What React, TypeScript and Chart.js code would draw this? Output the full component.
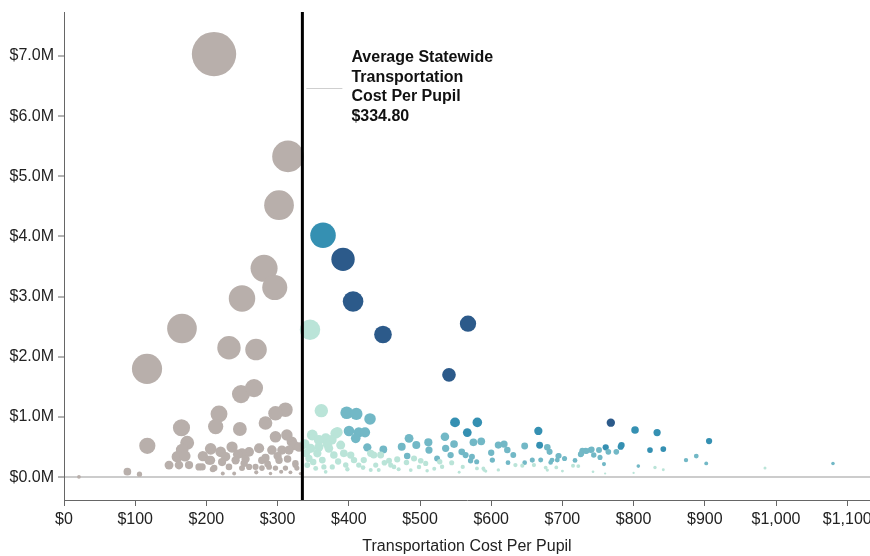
import { useEffect, useRef } from 'react';
import { Chart, registerables } from 'chart.js';

Chart.register(...registerables);

// ---- Data ----
// Average statewide transportation cost per pupil ($)
const AVERAGE_COST = 334.8;

// [cost per pupil ($), total transportation cost ($M)] — districts at/below the average
const belowAverageDistricts: [number, number][] = [
  [210.7, 7.03], [314.6, 5.33], [302, 4.52], [281, 3.47], [296, 3.15], [250, 2.97], [165.7, 2.47], [231.7, 2.15],
  [269.7, 2.12], [116.6, 1.8], [248.6, 1.38], [266.9, 1.48], [217.7, 1.05], [213, 0.84], [165, 0.82], [117, 0.52],
  [247, 0.8], [283, 0.9], [297, 1.06], [311, 1.12], [297, 0.67], [313, 0.7], [173, 0.57], [206, 0.47],
  [236, 0.5], [159, 0.34], [147.5, 0.2], [161.5, 0.2], [175.6, 0.2], [189.6, 0.17], [203.7, 0.28], [209, 0.13],
  [227, 0.34], [231.7, 0.17], [241, 0.28], [260, 0.42], [260, 0.17], [274, 0.48], [278, 0.28], [292, 0.45],
  [302, 0.28], [316, 0.45], [320, 0.59], [288, 0.17], [311, 0.15], [325, 0.2], [89, 0.09], [106, 0.05],
  [21, 0.005], [223, 0.06], [239, 0.06], [269, 0.17], [253, 0.23], [250, 0.4], [306, 0.45], [222, 0.25],
  [206, 0.28], [194, 0.17], [211, 0.15], [250, 0.15], [278, 0.15], [297, 0.15], [327, 0.15], [325, 0.23],
  [283, 0.32], [330, 0.5], [323, 0.53], [166, 0.45], [170, 0.35], [270, 0.08], [290, 0.06], [305, 0.09],
  [318, 0.08], [332, 0.06], [286, 0.22], [300, 0.35], [314, 0.3], [255, 0.3], [244, 0.38], [195, 0.35],
  [220, 0.42],
];

// [cost per pupil ($), total transportation cost ($M)] — districts above the average
const aboveAverageDistricts: [number, number][] = [
  [363.8, 4.02], [391.9, 3.62], [406, 2.92], [345.5, 2.45], [448, 2.37], [567.4, 2.55], [540.7, 1.7],
  [361.4, 1.105], [397, 1.07], [410.6, 1.05], [429.8, 0.967], [549.2, 0.91], [580.5, 0.91], [566.4, 0.74],
  [666.2, 0.767], [668, 0.53], [400.3, 0.767], [414, 0.745], [422.8, 0.745], [409.7, 0.645], [383.9, 0.745],
  [348.7, 0.7], [358, 0.617], [369.8, 0.55], [426, 0.495], [448.5, 0.46], [484.6, 0.645], [474.3, 0.505],
  [494.8, 0.533], [511.7, 0.578], [512.6, 0.45], [535, 0.672], [536, 0.478], [547.8, 0.55], [558.6, 0.42],
  [543, 0.367], [564, 0.367], [573, 0.34], [575, 0.578], [586, 0.595], [600, 0.405], [610, 0.533],
  [618, 0.55], [622.6, 0.45], [631, 0.367], [601.6, 0.283], [647, 0.517], [657.7, 0.283], [678.8, 0.495],
  [682, 0.42], [694, 0.35], [703, 0.31], [717.7, 0.278], [685.4, 0.283], [669.5, 0.283], [623.6, 0.24],
  [647, 0.24], [728, 0.44], [739.7, 0.45], [744, 0.367], [482, 0.35], [524, 0.31], [435, 0.367],
  [444.7, 0.367], [402.7, 0.367], [456.5, 0.272], [468, 0.295], [491.6, 0.31], [501, 0.272], [531, 0.172],
  [544.5, 0.24], [571, 0.272], [560, 0.17], [580, 0.145], [590, 0.117], [634, 0.2], [660, 0.2],
  [676.5, 0.16], [714.9, 0.19], [743, 0.09], [768, 0.905], [802, 0.783], [833, 0.74], [906, 0.6],
  [823, 0.45], [841.7, 0.467], [760.8, 0.495], [781.9, 0.505], [775.7, 0.42], [764.5, 0.42], [751.4, 0.45],
  [752.8, 0.328], [732.7, 0.44], [726.6, 0.39], [758.4, 0.217], [806.6, 0.183], [873.6, 0.283], [888, 0.35],
  [902, 0.228], [1080, 0.228], [830, 0.16], [841.7, 0.122], [984.5, 0.15], [381.6, 0.728], [346.5, 0.478],
  [367.6, 0.645], [372, 0.478], [388.6, 0.533], [393, 0.395], [379, 0.367], [355.8, 0.395], [344, 0.31],
  [362.8, 0.283], [407.3, 0.283], [421, 0.283], [430.8, 0.395], [395.7, 0.2], [414, 0.2], [437.8, 0.2],
  [458.8, 0.2], [353.5, 0.145], [365, 0.17], [376.8, 0.17], [341.7, 0.2], [442, 0.117], [430.8, 0.117],
  [367.5, 0.088], [463.5, 0.17], [481, 0.245], [508, 0.228], [498.6, 0.17], [527.7, 0.255], [579.6, 0.255],
  [589, 0.145], [592.3, 0.1], [643.7, 0.19], [487, 0.117], [510, 0.105], [683.5, 0.245], [692.8, 0.283],
  [695, 0.355], [725.6, 0.378], [733.6, 0.433], [741, 0.46], [783, 0.533], [678.8, 0.117], [691.4, 0.162],
  [722.3, 0.183], [338, 0.55], [340, 0.4], [350, 0.25], [358, 0.5], [376, 0.62], [385, 0.26],
  [398, 0.13], [420, 0.16], [450, 0.24], [470, 0.13], [520, 0.14], [555, 0.08], [610, 0.12],
  [700, 0.1], [760, 0.06], [800, 0.07],
];

const xTickValues = [0, 100, 200, 300, 400, 500, 600, 700, 800, 900, 1000, 1100];
const yTickValues = [0, 1, 2, 3, 4, 5, 6, 7];
const annotationLines = ['Average Statewide', 'Transportation', 'Cost Per Pupil', '$334.80'];
const xAxisTitle = 'Transportation Cost Per Pupil';

// ---- Styling ----
const FONT = "'Liberation Sans', Arial, Helvetica, sans-serif";
const GRAY = '#b8afab';
const MINT = '#bae4d8';
const TEAL = '#72b8c6';
const BLUE = '#3590b2';
const NAVY = '#2c5a8a';

// color tier: by the cost above the statewide average ($M)
function colorFor(cost: number, totalM: number): string {
  if (cost <= AVERAGE_COST) return GRAY;
  const excess = totalM * (1 - AVERAGE_COST / cost);
  if (excess < 0.105) return MINT;
  if (excess < 0.257) return TEAL;
  if (excess < 0.48) return BLUE;
  return NAVY;
}

// bubble area proportional to pupil count (total / cost-per-pupil)
function radiusFor(cost: number, totalM: number): number {
  const pupils = (totalM * 1e6) / cost;
  return Math.max(1.1, 0.1215 * Math.sqrt(pupils));
}

const annotationPlugin = {
  id: 'avgLine',
  afterDatasetsDraw(chart: any) {
    const { ctx, chartArea, scales } = chart;
    const px = scales.x.getPixelForValue(AVERAGE_COST);
    ctx.save();
    ctx.strokeStyle = '#000';
    ctx.lineWidth = 3;
    ctx.beginPath();
    ctx.moveTo(px, chartArea.top);
    ctx.lineTo(px, chartArea.bottom);
    ctx.stroke();

    ctx.strokeStyle = '#cfcfcf';
    ctx.lineWidth = 1;
    ctx.beginPath();
    ctx.moveTo(px + 4, chartArea.top + 76.5);
    ctx.lineTo(px + 40, chartArea.top + 76.5);
    ctx.stroke();

    ctx.fillStyle = '#111';
    ctx.font = `bold 16px ${FONT}`;
    ctx.textAlign = 'left';
    ctx.textBaseline = 'middle';
    annotationLines.forEach((line, i) => {
      ctx.fillText(line, px + 49, chartArea.top + 46 + i * 19.5);
    });
    ctx.restore();
  },
};

export default function App() {
  const canvasRef = useRef<HTMLCanvasElement | null>(null);

  useEffect(() => {
    if (!canvasRef.current) return;
    const all = [...belowAverageDistricts, ...aboveAverageDistricts]
      .map(([x, y]) => ({ x, y, r: radiusFor(x, y), c: colorFor(x, y) }))
      .sort((a, b) => b.r - a.r);

    const chart = new Chart(canvasRef.current, {
      type: 'bubble',
      data: {
        datasets: [
          {
            data: all.map((p) => ({ x: p.x, y: p.y, r: p.r })),
            backgroundColor: all.map((p) => p.c),
            borderWidth: 0,
            hoverRadius: 0,
            hoverBorderWidth: 0,
          } as any,
        ],
      },
      options: {
        animation: false,
        responsive: true,
        maintainAspectRatio: false,
        layout: { autoPadding: false, padding: { top: 12, left: 0, right: 0, bottom: 0 } },
        plugins: {
          legend: { display: false },
          tooltip: { enabled: false },
        },
        events: [],
        scales: {
          x: {
            type: 'linear',
            min: 0,
            max: 1132,
            afterBuildTicks: (s: any) => {
              s.ticks = xTickValues.map((v) => ({ value: v }));
            },
            afterFit: (s: any) => {
              s.height = 56;
              s.paddingLeft = 0;
              s.paddingRight = 0;
            },
            ticks: {
              callback: (v: any) => '$' + Number(v).toLocaleString('en-US'),
              color: '#222',
              font: { size: 16, family: FONT },
              padding: 4,
              maxRotation: 0,
              autoSkip: false,
            },
            grid: {
              drawOnChartArea: false,
              drawTicks: true,
              tickLength: 6,
              tickColor: '#666',
              tickWidth: 1,
            },
            border: { color: '#666', width: 1 },
            title: {
              display: true,
              text: xAxisTitle,
              color: '#222',
              font: { size: 16, family: FONT },
              padding: 0,
            },
          },
          y: {
            type: 'linear',
            min: -0.38,
            max: 7.73,
            afterBuildTicks: (s: any) => {
              s.ticks = yTickValues.map((v) => ({ value: v }));
            },
            afterFit: (s: any) => {
              s.width = 64;
              s.paddingTop = 0;
              s.paddingBottom = 0;
            },
            ticks: {
              callback: (v: any) => `$${Number(v).toFixed(1)}M`,
              color: '#222',
              font: { size: 16, family: FONT },
              padding: 4,
              autoSkip: false,
            },
            grid: {
              drawOnChartArea: true,
              color: (ctx: any) => (ctx.tick && ctx.tick.value === 0 ? '#cccccc' : 'rgba(0,0,0,0)'),
              lineWidth: (ctx: any) => (ctx.tick && ctx.tick.value === 0 ? 2 : 0),
              drawTicks: true,
              tickLength: 6,
              tickColor: '#666',
              tickWidth: 1,
            },
            border: { color: '#666', width: 1 },
          },
        },
      },
      plugins: [annotationPlugin],
    });

    return () => chart.destroy();
  }, []);

  return (
    <div style={{ position: 'fixed', left: 0, top: 0, width: 870, height: 556, background: '#fff' }}>
      <canvas ref={canvasRef} />
    </div>
  );
}
